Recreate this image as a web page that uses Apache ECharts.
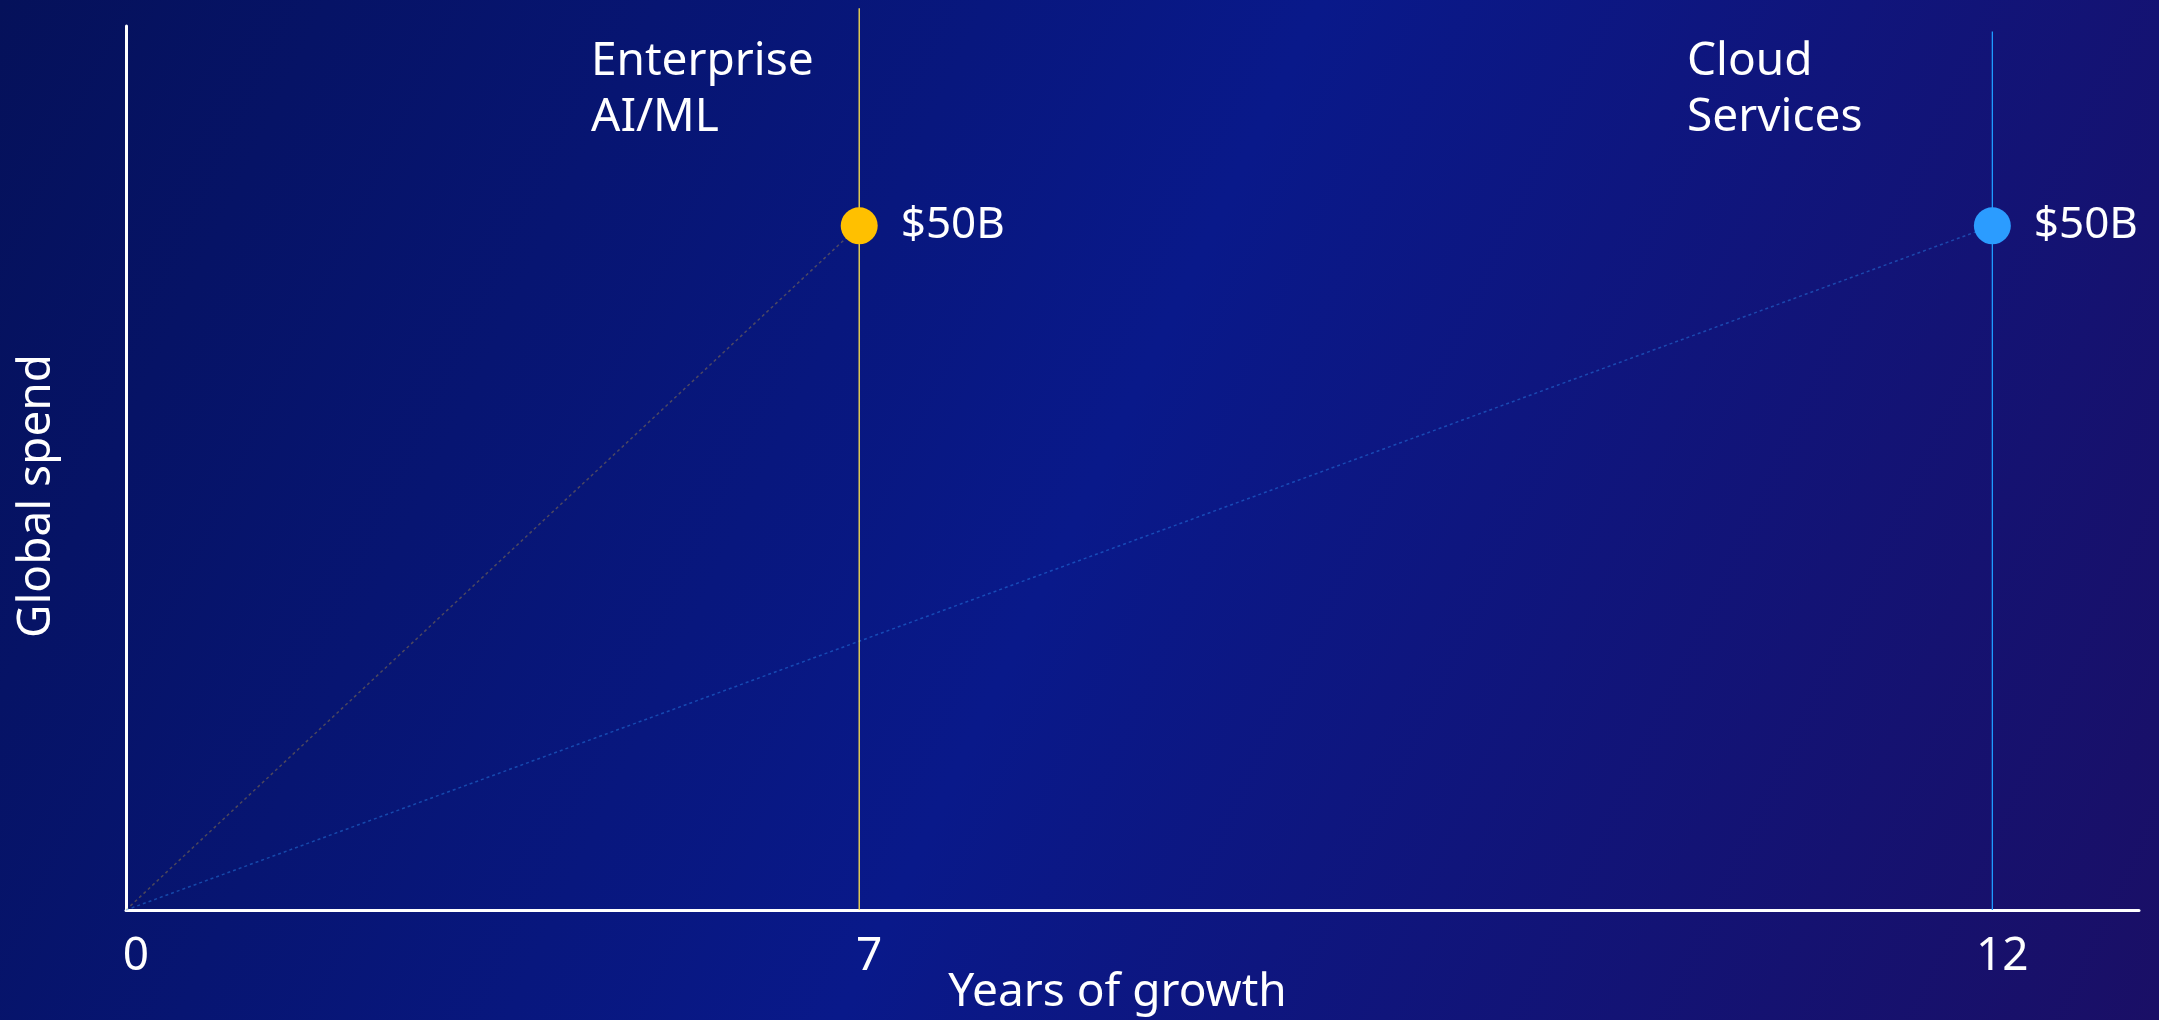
<!DOCTYPE html>
<html>
<head>
<meta charset="utf-8">
<script src="https://cdn.jsdelivr.net/npm/echarts@6/dist/echarts.min.js"></script>
<style>
  html, body { margin: 0; padding: 0; background: #08198a; }
  #chart { width: 2159px; height: 1020px; }
</style>
</head>
<body>
<div id="chart"></div>
<script>
// ---- data ----
const tickYears = ['0', '7', '12'];          // tick labels shown on the time axis
const tickSlots = [0, 11, 28];               // timeline slot of each tick (non-proportional slide axis)
const seriesNames = ['Enterprise\nAI/ML', 'Cloud\nServices'];
const seriesSlots = [11, 28];                // timeline slot reached by each market
const seriesSpend = [50, 50];                // global spend, $B
const spendLabels = ['$50B', '$50B'];
const leaderTops = [65.9, 64.2];             // top of each vertical guide line (spend units)

const FONT = "'Noto Sans', 'Open Sans', sans-serif";
const dotColors = ['#FFC000', '#2B9CFF'];
const guideColors = ['#FFE34D', '#1E9BFF'];
const trendColors = ['rgba(255,200,40,0.28)', 'rgba(45,150,255,0.40)'];

const chart = echarts.init(document.getElementById('chart'), null, { renderer: 'canvas' });

const series = [];
seriesSlots.forEach((slot, i) => {
  series.push({
    type: 'line',
    data: [[0, 0], [slot, seriesSpend[i]]],
    symbol: 'none',
    lineStyle: { color: trendColors[i], width: 1.5, type: [3, 3] },
    z: 2
  });
  series.push({
    type: 'line',
    data: [[slot, 0], [slot, leaderTops[i]]],
    symbol: 'none',
    clip: false,
    lineStyle: { color: guideColors[i], width: 1.3 },
    z: 3
  });
  series.push({
    type: 'scatter',
    data: [[slot, seriesSpend[i]]],
    symbol: 'circle',
    symbolSize: 37,
    itemStyle: { color: dotColors[i], opacity: 1 },
    label: {
      show: true,
      position: 'right',
      distance: 23,
      formatter: spendLabels[i],
      color: '#ffffff',
      fontSize: 44,
      fontFamily: FONT
    },
    z: 5
  });
});

const titleLefts = [591, 1687];

chart.setOption({
  backgroundColor: {
    type: 'linear', x: 0, y: 0, x2: 1, y2: 1,
    colorStops: [
      { offset: 0, color: '#05115a' },
      { offset: 0.5, color: '#09198a' },
      { offset: 1, color: '#1a0f66' }
    ]
  },
  animation: false,
  grid: { left: 126, right: 20, top: 26, bottom: 110, containLabel: false, outerBoundsMode: 'none' },
  xAxis: {
    type: 'value',
    min: 0,
    max: 30.2,
    interval: 1,
    name: 'Years of growth',
    nameLocation: 'middle',
    nameGap: 60,
    nameMoveOverlap: false,
    nameTextStyle: { color: '#ffffff', fontSize: 46, fontFamily: FONT, padding: [0, 30, 0, 0] },
    axisLine: { show: true, lineStyle: { color: '#ffffff', width: 3, cap: 'round' } },
    axisTick: { show: false },
    splitLine: { show: false },
    axisLabel: {
      color: '#ffffff',
      fontSize: 46,
      fontFamily: FONT,
      margin: 24,
      padding: [0, 0, 0, 20],
      showMaxLabel: false,
      formatter: function (v) {
        const k = tickSlots.indexOf(v);
        return k >= 0 ? tickYears[k] : '';
      }
    }
  },
  yAxis: {
    type: 'value',
    min: 0,
    max: 64.6,
    name: 'Global spend',
    nameLocation: 'middle',
    nameGap: 66,
    nameMoveOverlap: false,
    nameTextStyle: { color: '#ffffff', fontSize: 46, fontFamily: FONT, padding: [0, 56, 0, 0] },
    axisLine: { show: true, lineStyle: { color: '#ffffff', width: 3, cap: 'round' } },
    axisTick: { show: false },
    splitLine: { show: false },
    axisLabel: { show: false }
  },
  graphic: seriesNames.map((name, i) => ({
    type: 'text',
    left: titleLefts[i],
    top: 34,
    z: 10,
    style: {
      text: name,
      fill: '#ffffff',
      fontSize: 46,
      lineHeight: 56,
      fontFamily: FONT
    }
  })),
  series: series
});
</script>
</body>
</html>
